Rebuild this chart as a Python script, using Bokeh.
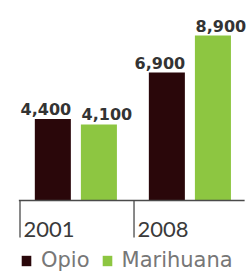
import numpy as np
from bokeh.plotting import figure
from bokeh.models import Range1d, ColumnDataSource, Legend, LegendItem
from bokeh.core.properties import value
from bokeh.embed import file_html
from bokeh.resources import INLINE

# ---- data ----
years = ["2001", "2008"]
opio = [4400, 6900]
marihuana = [4100, 8900]
series_names = ["Opio", "Marihuana"]
label_opio = ["4,400", "6,900"]
label_marihuana = ["4,100", "8,900"]

# ---- styles ----
C_OPIO = "#2a070a"
C_MARI = "#8dc641"
AXIS_C = "#4a4a4a"

idx = np.arange(len(years))
off = 0.202
bw = 0.316

p = figure(width=248, height=272, output_backend="svg", toolbar_location=None,
           x_range=Range1d(-0.661, 1.514), y_range=Range1d(-3884, 10788),
           x_axis_type=None, y_axis_type=None, min_border=0,
           background_fill_color="white", border_fill_color="white")
p.outline_line_color = None
p.grid.visible = False

src_o = ColumnDataSource(dict(x=idx - off, top=opio, lab=label_opio))
src_m = ColumnDataSource(dict(x=idx + off, top=marihuana, lab=label_marihuana))

r_o = p.vbar(x="x", top="top", bottom=0, width=bw, source=src_o,
             fill_color=C_OPIO, line_color=None)
r_m = p.vbar(x="x", top="top", bottom=0, width=bw, source=src_m,
             fill_color=C_MARI, line_color=None)

for s, xo in ((src_o, -7), (src_m, 8)):
    p.text(x="x", y="top", text="lab", source=s, text_align="center",
           text_baseline="alphabetic", y_offset=-10, x_offset=xo,
           text_font=value("DejaVu Sans"), text_font_style="bold",
           text_font_size="16px", text_color="#333333")

# baseline axis
p.segment(x0=[idx[0] - 0.5], x1=[idx[-1] + 0.48], y0=[0], y1=[0],
          line_color=AXIS_C, line_width=1.3)
# group ticks
tx = idx - 0.49
p.segment(x0=tx, x1=tx, y0=np.zeros(len(idx)), y1=np.full(len(idx), -1996.0),
          line_color=AXIS_C, line_width=1.3)
# year labels
p.text(x=tx + 0.03, y=np.zeros(len(idx)), text=years, text_align="left",
       text_baseline="alphabetic", y_offset=29,
       text_font=value("Lato"), text_font_size="22px", text_color="#3a3a3a")

legend = Legend(items=[LegendItem(label=series_names[0], renderers=[r_o]),
                       LegendItem(label=series_names[1], renderers=[r_m])],
                orientation="horizontal", location=(20, 0),
                padding=0, margin=0, spacing=11, label_standoff=9,
                glyph_width=12, glyph_height=13,
                border_line_alpha=0, background_fill_alpha=0,
                label_text_font="DejaVu Sans", label_text_font_size="21px",
                label_text_color="#777777")
p.add_layout(legend, "center")

open("out.html", "w").write(file_html(p, INLINE))
